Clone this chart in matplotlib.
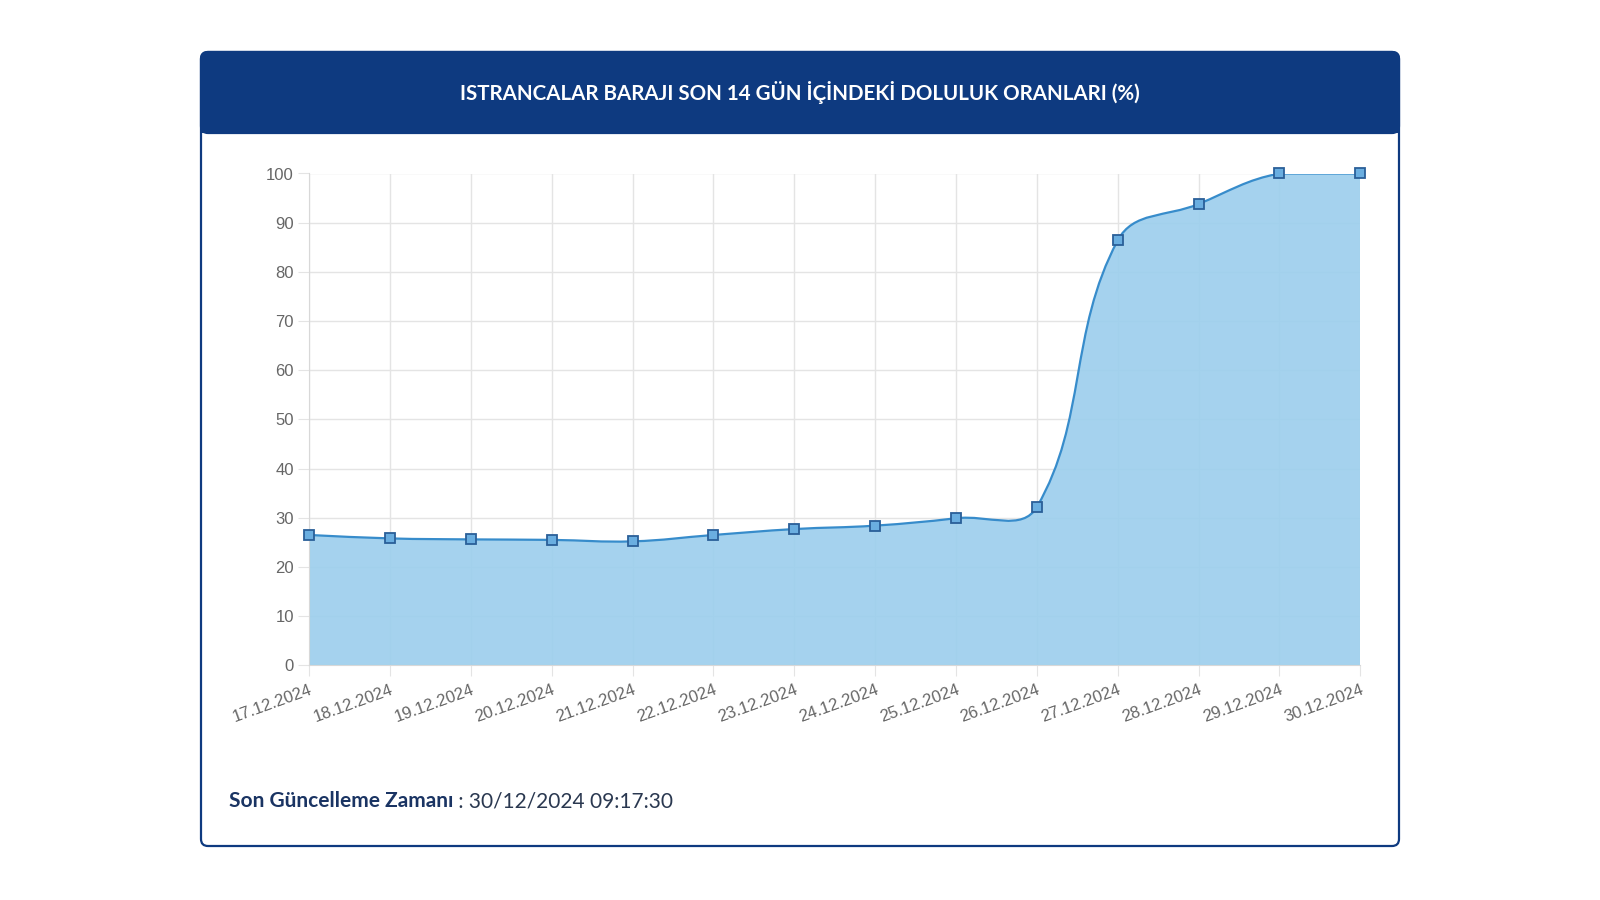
import numpy as np
import matplotlib.pyplot as plt
from matplotlib.path import Path
from matplotlib.patches import PathPatch, FancyBboxPatch, Rectangle

# data
dates = ["17.12.2024", "18.12.2024", "19.12.2024", "20.12.2024", "21.12.2024",
         "22.12.2024", "23.12.2024", "24.12.2024", "25.12.2024", "26.12.2024",
         "27.12.2024", "28.12.2024", "29.12.2024", "30.12.2024"]
doluluk = [26.5, 25.8, 25.6, 25.5, 25.2, 26.5, 27.7, 28.4, 29.9, 32.2,
           86.4, 93.8, 100.0, 100.0]
y_ticks = [0, 10, 20, 30, 40, 50, 60, 70, 80, 90, 100]

title = "ISTRANCALAR BARAJI SON 14 GÜN İÇİNDEKİ DOLULUK ORANLARI (%)"
footer_label = "Son Güncelleme Zamanı"
footer_value = " : 30/12/2024 09:17:30"

NAVY = "#0e3a80"
LINE = "#378ccb"
FILL = "#9dcfed"
GRID = "#e4e4e4"
TICK = "#666666"


def spline_path(xs, ys, sx, sy, t=0.4, ymin=0, ymax=100):
    # bezier control points like Chart.js splineCurve, distances in pixel space
    n = len(xs)
    px = np.array(xs, float) * sx
    py = np.array(ys, float) * sy
    c_prev, c_next = [], []
    for i in range(n):
        a = max(i - 1, 0)
        b = min(i + 1, n - 1)
        d01 = np.hypot(px[i] - px[a], py[i] - py[a])
        d12 = np.hypot(px[b] - px[i], py[b] - py[i])
        tot = d01 + d12
        s01 = d01 / tot if tot else 0
        s12 = d12 / tot if tot else 0
        fa, fb = t * s01, t * s12
        cp = (px[i] - fa * (px[b] - px[a]), py[i] - fa * (py[b] - py[a]))
        cn = (px[i] + fb * (px[b] - px[a]), py[i] + fb * (py[b] - py[a]))
        c_prev.append((cp[0] / sx, min(max(cp[1] / sy, ymin), ymax)))
        c_next.append((cn[0] / sx, min(max(cn[1] / sy, ymin), ymax)))
    verts = [(xs[0], ys[0])]
    codes = [Path.MOVETO]
    for i in range(n - 1):
        verts += [c_next[i], c_prev[i + 1], (xs[i + 1], ys[i + 1])]
        codes += [Path.CURVE4] * 3
    return verts, codes


fig = plt.figure(figsize=(16, 9), dpi=100)
fig.patch.set_facecolor("white")

# background axes in pixel coords for the card
bg = fig.add_axes([0, 0, 1, 1], zorder=0)
bg.set_xlim(0, 1600)
bg.set_ylim(900, 0)
bg.axis("off")

card = FancyBboxPatch((201, 52), 1198, 794, boxstyle="round,pad=0,rounding_size=7",
                      facecolor="white", edgecolor=NAVY, lw=1.6)
bg.add_patch(card)
header = FancyBboxPatch((201, 52), 1198, 81, boxstyle="round,pad=0,rounding_size=7",
                        facecolor=NAVY, edgecolor=NAVY, lw=1.6)
bg.add_patch(header)
bg.add_patch(Rectangle((201, 100), 1198, 33, facecolor=NAVY, edgecolor="none"))

bg.text(800, 93, title, color="white", fontsize=14.8, fontweight="bold",
        family="Lato", ha="center", va="center")
t1 = bg.text(229, 801, footer_label, color="#1a3463", fontsize=15,
             fontweight="bold", family="Lato", ha="left", va="center")
fig.canvas.draw()
bb = t1.get_window_extent()
bg.text(229 + bb.width, 801, footer_value, color="#2a3850", fontsize=15,
        family="Lato", ha="left", va="center")

# chart
ax = fig.add_axes([309.2 / 1600, 1 - 665.3 / 900, (1360.3 - 309.2) / 1600,
                   (665.3 - 173.5) / 900], zorder=1)
ax.set_facecolor("none")
x = np.arange(len(dates))
ax.set_xlim(0, len(dates) - 1)
ax.set_ylim(0, 100)

sx = (1360.3 - 309.2) / (len(dates) - 1)
sy = (665.3 - 173.5) / 100
verts, codes = spline_path(list(x), doluluk, sx, sy)

fill_verts = verts + [(x[-1], 0), (x[0], 0), (x[0], doluluk[0])]
fill_codes = codes + [Path.LINETO, Path.LINETO, Path.CLOSEPOLY]
ax.add_patch(PathPatch(Path(fill_verts, fill_codes), facecolor=FILL,
                       edgecolor="none", alpha=0.92, zorder=2))
ax.add_patch(PathPatch(Path(verts, codes), facecolor="none", edgecolor=LINE,
                       lw=1.6, zorder=3))
ax.plot(x, doluluk, linestyle="none", marker="s", markersize=7,
        markerfacecolor="#6aaee0", markeredgecolor="#2a5f98",
        markeredgewidth=1.3, zorder=4, clip_on=False)

ax.set_axisbelow(True)
ax.grid(True, color=GRID, lw=1)
for s in ["top", "right"]:
    ax.spines[s].set_visible(False)
for s in ["left", "bottom"]:
    ax.spines[s].set_color("#d8d8d8")

ax.set_yticks(y_ticks)
ax.set_xticks(x)
ax.set_xticklabels(dates, rotation=20, ha="right", rotation_mode="anchor")
ax.tick_params(axis="both", length=8, color=GRID, labelcolor=TICK,
               labelsize=12)
ax.tick_params(axis="y", pad=3)
ax.tick_params(axis="x", pad=4)
for lab in ax.get_xticklabels() + ax.get_yticklabels():
    lab.set_family("Liberation Sans")

fig.savefig("out.png", dpi=100)
